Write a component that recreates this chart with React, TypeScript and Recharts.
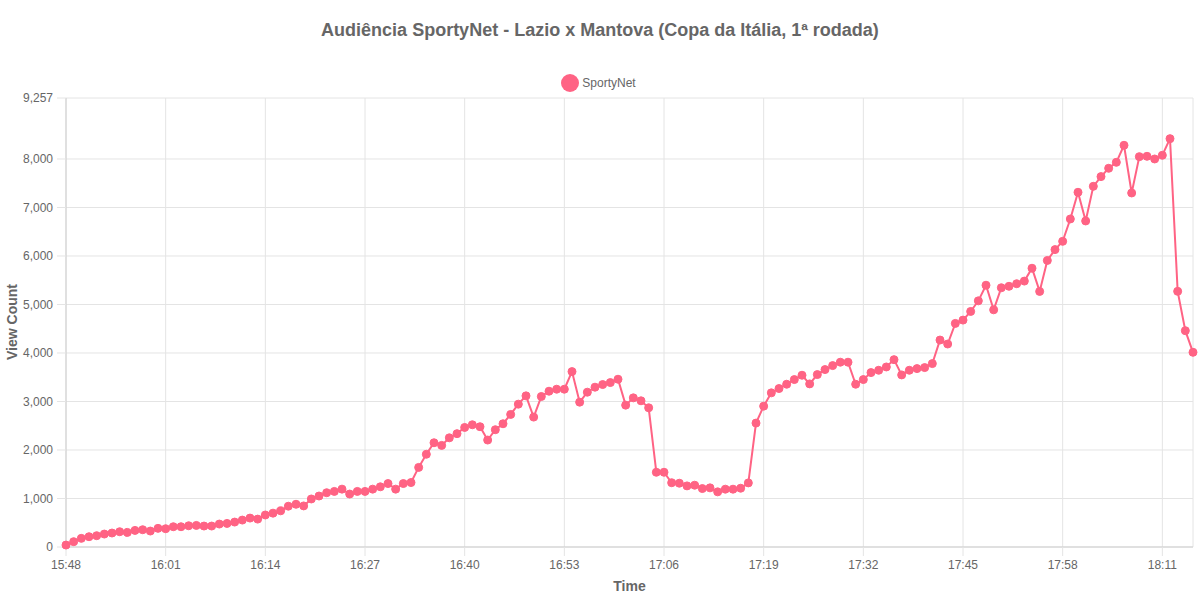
import React from "react";
import { LineChart, Line, XAxis, YAxis, CartesianGrid, Label } from "recharts";

const times: string[] = [
  "15:48", "15:49", "15:50", "15:51", "15:52", "15:53", "15:54", "15:55", "15:56", "15:57", "15:58", "15:59",
  "16:00", "16:01", "16:02", "16:03", "16:04", "16:05", "16:06", "16:07", "16:08", "16:09",
  "16:10", "16:11", "16:12", "16:13", "16:14", "16:15", "16:16", "16:17", "16:18", "16:19",
  "16:20", "16:21", "16:22", "16:23", "16:24", "16:25", "16:26", "16:27", "16:28", "16:29",
  "16:30", "16:31", "16:32", "16:33", "16:34", "16:35", "16:36", "16:37", "16:38", "16:39",
  "16:40", "16:41", "16:42", "16:43", "16:44", "16:45", "16:46", "16:47", "16:48", "16:49",
  "16:50", "16:51", "16:52", "16:53", "16:54", "16:55", "16:56", "16:57", "16:58", "16:59",
  "17:00", "17:01", "17:02", "17:03", "17:04", "17:05", "17:06", "17:07", "17:08", "17:09",
  "17:10", "17:11", "17:12", "17:13", "17:14", "17:15", "17:16", "17:17", "17:18", "17:19",
  "17:20", "17:21", "17:22", "17:23", "17:24", "17:25", "17:26", "17:27", "17:28", "17:29",
  "17:30", "17:31", "17:32", "17:33", "17:34", "17:35", "17:36", "17:37", "17:38", "17:39",
  "17:40", "17:41", "17:42", "17:43", "17:44", "17:45", "17:46", "17:47", "17:48", "17:49",
  "17:50", "17:51", "17:52", "17:53", "17:54", "17:55", "17:56", "17:57", "17:58", "17:59",
  "18:00", "18:01", "18:02", "18:03", "18:04", "18:05", "18:06", "18:07", "18:08", "18:09",
  "18:10", "18:11", "18:12", "18:13", "18:14", "18:15",
];

const viewCounts: number[] = [
  40, 110, 178, 212, 233, 267, 288, 315, 301, 342, 356, 329,
  384, 377, 418, 418, 438, 445, 432, 432, 473, 486,
  514, 555, 596, 575, 660, 698, 746, 841, 881, 847,
  990, 1051, 1119, 1146, 1193, 1092, 1146, 1146, 1193, 1241,
  1308, 1193, 1308, 1329, 1641, 1912, 2149, 2095, 2251, 2337,
  2465, 2520, 2480, 2205, 2418, 2541, 2733, 2945, 3116, 2678,
  3103, 3212, 3253, 3253, 3616, 2986, 3192, 3295, 3349, 3390,
  3459, 2925, 3075, 3014, 2870, 1541, 1541, 1325, 1315, 1260,
  1274, 1205, 1219, 1137, 1192, 1192, 1212, 1322, 2555, 2904,
  3178, 3267, 3356, 3452, 3541, 3363, 3555, 3658, 3740, 3810,
  3810, 3356, 3452, 3596, 3644, 3712, 3863, 3548, 3644, 3678,
  3699, 3781, 4267, 4185, 4610, 4678, 4856, 5075, 5397, 4890,
  5345, 5375, 5428, 5482, 5747, 5269, 5908, 6131, 6302, 6763,
  7313, 6722, 7436, 7636, 7808, 7931, 8282, 7299, 8048, 8055,
  8000, 8076, 8419, 5271, 4460, 4014,
];

const yTicks: number[] = [0, 1000, 2000, 3000, 4000, 5000, 6000, 7000, 8000, 9257];

const seriesName = "SportyNet";
const chartTitle = "Audiência SportyNet - Lazio x Mantova (Copa da Itália, 1ª rodada)";

const data = times.map((t, i) => ({ time: t, views: viewCounts[i] }));

const FONT = "'Liberation Sans', Arial, Helvetica, sans-serif";
const PINK = "rgb(255, 99, 132)";
const GRID = "#e4e4e4";

export default function App() {
  return (
    <div style={{ position: "absolute", left: 0, top: 0, width: 1200, height: 600, background: "#fff", fontFamily: FONT }}>
      <div
        style={{
          position: "absolute",
          left: 0,
          top: 19,
          width: 1200,
          textAlign: "center",
          fontSize: 18,
          fontWeight: "bold",
          color: "#666",
          lineHeight: "22px",
        }}
      >
        {chartTitle}
      </div>
      <div
        style={{
          position: "absolute",
          left: 0,
          top: 73,
          width: 1200,
          display: "flex",
          justifyContent: "center",
          alignItems: "center",
          height: 19,
          fontSize: 12,
          color: "#666",
        }}
      >
        <div style={{ display: "flex", alignItems: "center", marginLeft: -3 }}>
          <span
            style={{
              display: "inline-block",
              width: 18,
              height: 18,
              borderRadius: "50%",
              background: PINK,
              marginRight: 3,
            }}
          />
          <span>{seriesName}</span>
        </div>
      </div>
      <LineChart
        width={1200}
        height={600}
        data={data}
        margin={{ top: 98, right: 7, bottom: 0, left: 0 }}
        style={{ fontFamily: FONT }}
      >
        <CartesianGrid stroke={GRID} strokeWidth={1} />
        <XAxis
          dataKey="time"
          scale="point"
          interval={12}
          height={53}
          tickSize={9}
          tickMargin={4}
          stroke="#cfcfcf"
          tickLine={{ stroke: GRID }}
          tick={{ fill: "#666", fontSize: 12, fontFamily: FONT }}
        >
          <Label
            value="Time"
            position="insideBottom"
            offset={9}
            fill="#666"
            fontSize={14}
            fontWeight="bold"
            fontFamily={FONT}
          />
        </XAxis>
        <YAxis
          type="number"
          domain={[0, 9257]}
          ticks={yTicks}
          interval={0}
          width={66}
          tickSize={9}
          tickMargin={4}
          stroke="#cfcfcf"
          tickLine={{ stroke: GRID }}
          tick={{ fill: "#666", fontSize: 12, fontFamily: FONT }}
          tickFormatter={(v: number) => v.toLocaleString("en-US")}
        >
          <Label
            content={() => (
              <text
                x={12}
                y={322}
                transform="rotate(-90, 12, 322)"
                textAnchor="middle"
                dominantBaseline="central"
                fill="#666"
                fontSize={14}
                fontWeight="bold"
                fontFamily={FONT}
              >
                View Count
              </text>
            )}
          />
        </YAxis>
        <Line
          type="linear"
          dataKey="views"
          name={seriesName}
          stroke={PINK}
          strokeWidth={2}
          dot={{ r: 4, fill: PINK, stroke: PINK, strokeWidth: 1 }}
          activeDot={false}
          isAnimationActive={false}
        />
      </LineChart>
    </div>
  );
}
